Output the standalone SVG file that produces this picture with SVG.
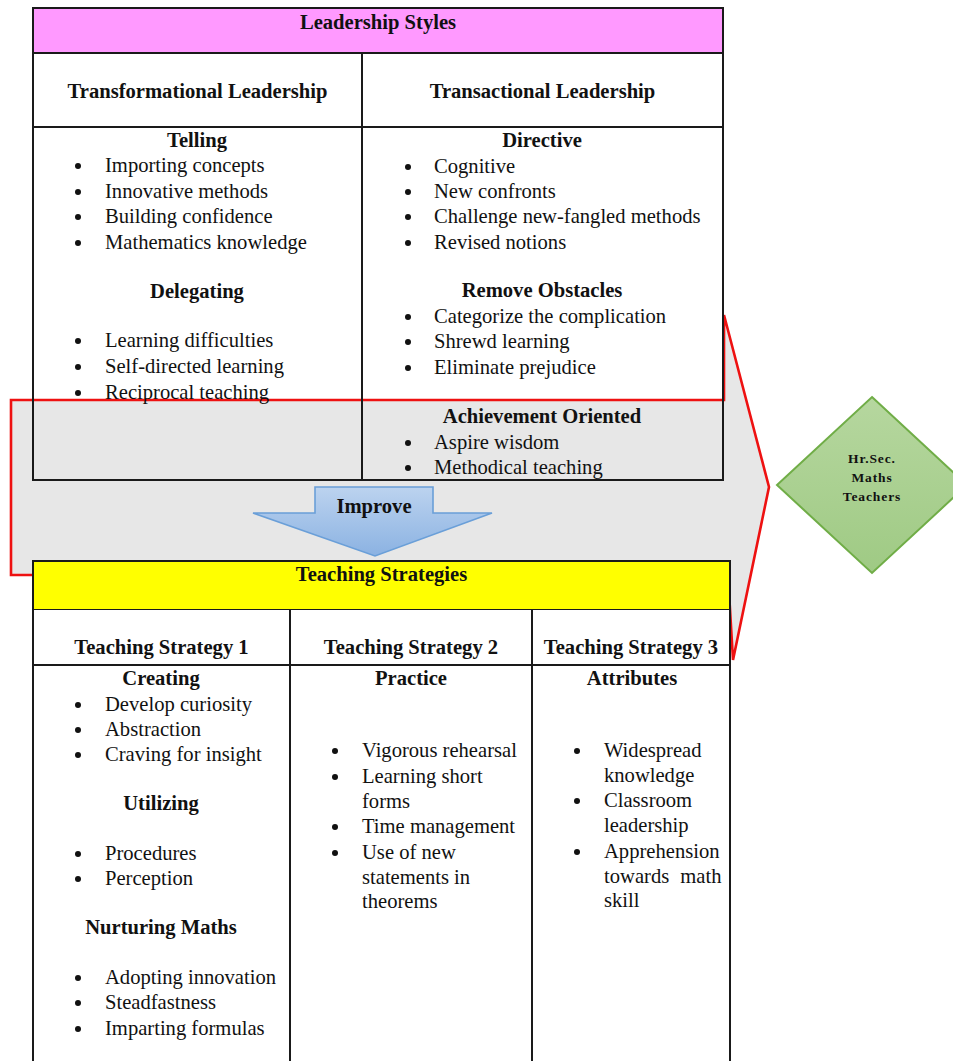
<svg xmlns="http://www.w3.org/2000/svg" width="953" height="1061" viewBox="0 0 953 1061">
  <style>
    text { font-family: "Liberation Serif", "Times New Roman", serif; font-size: 20.6px; fill: #111; }
    .b { font-weight: bold; }
    .c { text-anchor: middle; }
    .grid { stroke: #1a1a1a; stroke-width: 2; fill: none; }
    .dot { fill: #111; }
    .small { font-size: 13.5px; font-weight: bold; letter-spacing: 0.9px; text-anchor: middle; }
  </style>
  <defs>
    <linearGradient id="blueFill" x1="0" y1="0" x2="0" y2="1">
      <stop offset="0" stop-color="#bcd3ef"/>
      <stop offset="1" stop-color="#8bb2e2"/>
    </linearGradient>
    <linearGradient id="greenFill" x1="0" y1="0" x2="0" y2="1">
      <stop offset="0" stop-color="#b6d79f"/>
      <stop offset="1" stop-color="#9fca84"/>
    </linearGradient>
  </defs>

  <rect width="953" height="1061" fill="#ffffff"/>

  <!-- connectors: callout band and the Improve arrow -->
  <g id="connectors">
    <polygon id="callout" points="11,400 724,400 724,315 769,487 733,660 728,575 11,575"
             fill="#e7e7e7" stroke="#ee1111" stroke-width="2.6" stroke-linejoin="miter"/>
  </g>

  <!-- Leadership styles table -->
  <g id="leadership-table">
    <rect x="33" y="8" width="690" height="45" fill="#ff99ff" stroke="#1a1a1a" stroke-width="2"/>
    <text class="b c" x="378" y="29">Leadership Styles</text>
    <path class="grid" d="M33,53 V480 H723 V53 M33,127 H723 M362,53 V480"/>
    <text class="b c" x="197.5" y="98">Transformational Leadership</text>
    <text class="b c" x="542.5" y="98">Transactional Leadership</text>

    <g id="telling">
      <text class="b c" x="197" y="147">Telling</text>
      <circle class="dot" cx="78" cy="166" r="3"/><text x="105" y="172">Importing concepts</text>
      <circle class="dot" cx="78" cy="192" r="3"/><text x="105" y="198">Innovative methods</text>
      <circle class="dot" cx="78" cy="217" r="3"/><text x="105" y="223">Building confidence</text>
      <circle class="dot" cx="78" cy="243" r="3"/><text x="105" y="249">Mathematics knowledge</text>
    </g>
    <g id="delegating">
      <text class="b c" x="197" y="298">Delegating</text>
      <circle class="dot" cx="78" cy="341" r="3"/><text x="105" y="347">Learning difficulties</text>
      <circle class="dot" cx="78" cy="367" r="3"/><text x="105" y="373">Self-directed learning</text>
      <circle class="dot" cx="78" cy="393" r="3"/><text x="105" y="399">Reciprocal teaching</text>
    </g>
    <g id="directive">
      <text class="b c" x="542" y="147">Directive</text>
      <circle class="dot" cx="408" cy="167" r="3"/><text x="434" y="173">Cognitive</text>
      <circle class="dot" cx="408" cy="192" r="3"/><text x="434" y="198">New confronts</text>
      <circle class="dot" cx="408" cy="217" r="3"/><text x="434" y="223">Challenge new-fangled methods</text>
      <circle class="dot" cx="408" cy="243" r="3"/><text x="434" y="249">Revised notions</text>
    </g>
    <g id="remove-obstacles">
      <text class="b c" x="542" y="297">Remove Obstacles</text>
      <circle class="dot" cx="408" cy="317" r="3"/><text x="434" y="323">Categorize the complication</text>
      <circle class="dot" cx="408" cy="342" r="3"/><text x="434" y="348">Shrewd learning</text>
      <circle class="dot" cx="408" cy="368" r="3"/><text x="434" y="374">Eliminate prejudice</text>
    </g>
    <g id="achievement-oriented">
      <text class="b c" x="542" y="423">Achievement Oriented</text>
      <circle class="dot" cx="408" cy="443" r="3"/><text x="434" y="449">Aspire wisdom</text>
      <circle class="dot" cx="408" cy="468" r="3"/><text x="434" y="474">Methodical teaching</text>
    </g>
  </g>

  <!-- Improve arrow -->
  <g id="improve-arrow">
    <polygon points="315,487 433,487 433,513 492,513 375,556 253,513 315,513"
             fill="url(#blueFill)" stroke="#6a9fd8" stroke-width="1.6"/>
    <text class="b c" x="374" y="513">Improve</text>
  </g>

  <!-- Teaching strategies table -->
  <g id="teaching-table">
    <rect x="33" y="561" width="697" height="49" fill="#ffff00" stroke="#1a1a1a" stroke-width="2"/>
    <rect x="33" y="610" width="697" height="460" fill="#ffffff"/>
    <text class="b c" x="381.5" y="581">Teaching Strategies</text>
    <path class="grid" d="M33,610 V1070 M730,610 V1070 M33,665 H730 M290,610 V1070 M532,610 V1070"/>
    <text class="b c" x="161.5" y="654">Teaching Strategy 1</text>
    <text class="b c" x="411" y="654">Teaching Strategy 2</text>
    <text class="b c" x="631" y="654">Teaching Strategy 3</text>

    <g id="strategy-1">
      <text class="b c" x="161" y="685">Creating</text>
      <circle class="dot" cx="78" cy="705" r="3"/><text x="105" y="711">Develop curiosity</text>
      <circle class="dot" cx="78" cy="730" r="3"/><text x="105" y="736">Abstraction</text>
      <circle class="dot" cx="78" cy="755" r="3"/><text x="105" y="761">Craving for insight</text>
      <text class="b c" x="161" y="810">Utilizing</text>
      <circle class="dot" cx="78" cy="854" r="3"/><text x="105" y="860">Procedures</text>
      <circle class="dot" cx="78" cy="879" r="3"/><text x="105" y="885">Perception</text>
      <text class="b c" x="161" y="934">Nurturing Maths</text>
      <circle class="dot" cx="78" cy="978" r="3"/><text x="105" y="984">Adopting innovation</text>
      <circle class="dot" cx="78" cy="1003" r="3"/><text x="105" y="1009">Steadfastness</text>
      <circle class="dot" cx="78" cy="1029" r="3"/><text x="105" y="1035">Imparting formulas</text>
    </g>
    <g id="strategy-2">
      <text class="b c" x="411" y="685">Practice</text>
      <circle class="dot" cx="335" cy="751" r="3"/><text x="362" y="757">Vigorous rehearsal</text>
      <circle class="dot" cx="335" cy="777" r="3"/><text x="362" y="783">Learning short</text>
      <text x="362" y="808">forms</text>
      <circle class="dot" cx="335" cy="827" r="3"/><text x="362" y="833">Time management</text>
      <circle class="dot" cx="335" cy="853" r="3"/><text x="362" y="859">Use of new</text>
      <text x="362" y="884">statements in</text>
      <text x="362" y="908">theorems</text>
    </g>
    <g id="strategy-3">
      <text class="b c" x="632" y="685">Attributes</text>
      <circle class="dot" cx="577" cy="751" r="3"/><text x="604" y="757">Widespread</text>
      <text x="604" y="782">knowledge</text>
      <circle class="dot" cx="577" cy="801" r="3"/><text x="604" y="807">Classroom</text>
      <text x="604" y="832">leadership</text>
      <circle class="dot" cx="577" cy="852" r="3"/><text x="604" y="858">Apprehension</text>
      <text x="604" y="883" word-spacing="6">towards math</text>
      <text x="604" y="907">skill</text>
    </g>
  </g>

  <!-- Target group -->
  <g id="teachers-node">
    <polygon points="872,397 967,485 872,573 777,485" fill="url(#greenFill)" stroke="#70ad47" stroke-width="2"/>
    <text class="small" x="872" y="463">Hr.Sec.</text>
    <text class="small" x="872" y="482">Maths</text>
    <text class="small" x="872" y="501">Teachers</text>
  </g>
</svg>
